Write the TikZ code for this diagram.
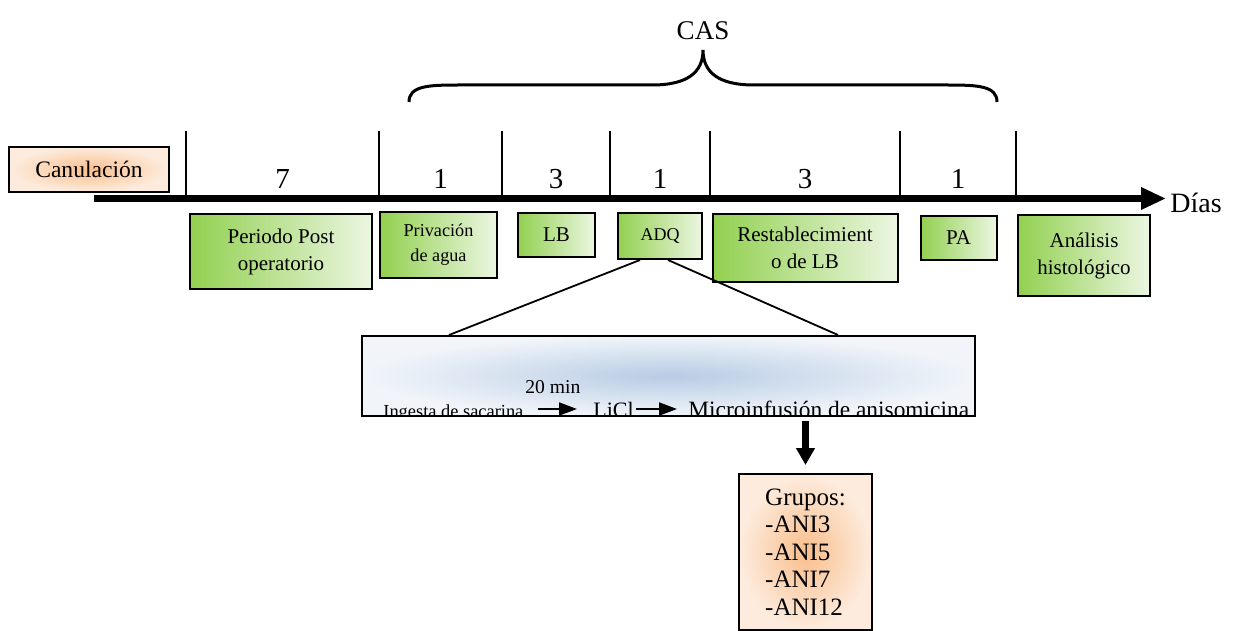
\documentclass[tikz,border=0pt]{standalone}
\usepackage{fontspec}
\setmainfont{Liberation Serif}
\usepackage{tikz}
\usetikzlibrary{shapes,arrows.meta,positioning}
\definecolor{stagegreen}{RGB}{146,208,80}
\definecolor{stagelight}{RGB}{236,246,226}
\definecolor{peach}{RGB}{253,236,222}
\definecolor{peachdark}{RGB}{249,190,140}
\definecolor{infoblue}{RGB}{184,204,228}
\definecolor{infolight}{RGB}{241,245,250}
\tikzstyle{stage} = [rectangle, draw=black, line width=1pt, left color=stagegreen, right color=stagelight, text=black, align=center, inner sep=1pt, font=\fontsize{10.5}{13.5}\selectfont]
\tikzstyle{peachbox} = [rectangle, draw=black, line width=1pt, inner color=peachdark, outer color=peach, text=black]
\tikzstyle{infobox} = [rectangle, draw=black, line width=1pt, inner color=infoblue, outer color=infolight]
\tikzstyle{daytick} = [draw, line width=0.8pt]
\tikzstyle{daynum} = [anchor=base, inner sep=0pt, font=\fontsize{14.5}{16}\selectfont]
\tikzstyle{timeline} = [draw, line width=3.5pt, -{Triangle[length=12.5pt,width=10.5pt]}]
\tikzstyle{zoomline} = [draw, line width=0.9pt]
\tikzstyle{casbrace} = [draw, line width=1.5pt]
\tikzstyle{smallarr} = [draw, line width=1pt, -{Triangle[length=9pt,width=6.5pt]}]
\tikzstyle{downarr} = [draw, line width=3.2pt, -{Triangle[length=8.5pt,width=9pt]}]
\tikzstyle{infotext} = [anchor=base west, inner sep=0pt]

\begin{document}
\begin{tikzpicture}[x=0.5pt, y=-0.5pt]
\useasboundingbox (0,0) rectangle (1236,631);

% timeline =============================
\coordinate (tstart) at (94,198.5);
\coordinate (tend) at (1166,198.5);
\foreach \x in {186,379,502,610,710,900,1016}
  \path[daytick] (\x,131) -- (\x,198);
\path[timeline] (tstart) -- (tend);
\node[right=2pt of tend, yshift=-2pt, inner sep=0pt, font=\fontsize{14}{16}\selectfont] (dias) {Días};

% day counts
\foreach \a/\b/\n [count=\i] in {186/379/7, 379/502/1, 502/610/3, 610/710/1, 710/900/3, 900/1016/1}
  \node[daynum] (num\i) at ({(\a+\b)/2},188) {\n};

% CAS brace
\path[casbrace] (409,102) .. controls (409,86) and (428,85) .. (458,85) -- (652,85)
  .. controls (688,85) and (703,72) .. (703,50) .. controls (703,72) and (718,85) .. (754,85)
  -- (948,85) .. controls (978,85) and (997,86) .. (997,102);
\node[anchor=base, inner sep=0pt, font=\fontsize{13.5}{15}\selectfont] (cas) at (703,40) {CAS};

% stages
\node[peachbox, minimum width=80pt, minimum height=22.5pt, font=\fontsize{11.8}{14}\selectfont] (canul) at (89,169.5) {Canulación};
\node[stage, minimum width=91pt, minimum height=37.5pt] (post) at (281,251.5) {Periodo Post\\operatorio};
\node[stage, minimum width=58.5pt, minimum height=33pt, font=\fontsize{9.1}{12.5}\selectfont] (priv) at (438.5,245) {Privación\\de agua};
\node[stage, minimum width=38.5pt, minimum height=22pt] (lb) at (556.5,235) {LB};
\node[stage, minimum width=42pt, minimum height=23pt, font=\fontsize{9}{11}\selectfont] (adq) at (660,236) {ADQ};
\node[stage, minimum width=92.5pt, minimum height=34pt] (rest) at (805,248) {Restablecimient\\o de LB};
\node[stage, minimum width=38pt, minimum height=22pt] (pa) at (958.5,238) {PA};
\node[stage, minimum width=66pt, minimum height=40.5pt] (hist) at (1084,255.5) {Análisis\\histológico};

% ADQ detail
\node[infobox, minimum width=306.5pt, minimum height=40pt] (info) at (668.5,376) {};
\path[zoomline] ([xshift=-10pt]adq.south) -- ([xshift=44pt]info.north west);
\path[zoomline] ([xshift=4pt]adq.south) -- ([xshift=-69pt]info.north east);

\begin{scope}
\clip ([yshift=0.5pt]info.south west) rectangle ([yshift=-0.5pt]info.north east);
\node[infotext, font=\fontsize{9.2}{11}\selectfont] (ingesta) at (383,417) {Ingesta de sacarina};
\node[infotext, font=\fontsize{11}{12}\selectfont] (licl) at (593,417) {LiCl};
\node[infotext, font=\fontsize{11.7}{13}\selectfont] (micro) at (688,417) {Microinfusión de anisomicina};
\end{scope}
\node[infotext, font=\fontsize{9.8}{11}\selectfont] (veinte) at (525,393) {20 min};
\path[smallarr, shorten <=7pt, shorten >=8pt] ([yshift=4pt]ingesta.base east) -- ([yshift=4pt]ingesta.base east -| licl.west);
\path[smallarr, shorten <=1pt, shorten >=5.5pt] ([yshift=4pt]ingesta.base east -| licl.east) -- ([yshift=4pt]ingesta.base east -| micro.west);

% groups
\node[peachbox, anchor=north west, minimum width=66.5pt, minimum height=78pt, align=left, inner xsep=10.5pt, inner ysep=7pt, font=\fontsize{12.5}{13.75}\selectfont] (grupos) at (738,473) {Grupos:\\-ANI3\\-ANI5\\-ANI7\\-ANI12};
\path[downarr, shorten <=2pt, shorten >=4pt] (grupos.north |- info.south) -- (grupos.north);

\end{tikzpicture}
\end{document}
